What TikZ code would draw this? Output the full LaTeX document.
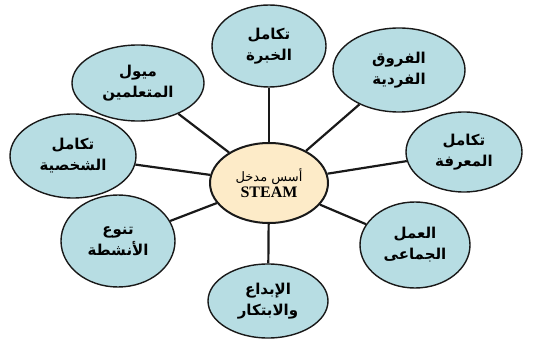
\documentclass[tikz,border=0pt]{standalone}
\usepackage{fontspec}
\newfontfamily\arabicfont[Script=Arabic]{DejaVu Sans}
\newfontfamily\latinfont{Liberation Serif}
\TeXXeTstate=1
\usetikzlibrary{shapes.geometric}
\definecolor{petal}{RGB}{183,221,227}
\definecolor{hub}{RGB}{253,235,200}
\definecolor{rim}{RGB}{25,25,25}
\begin{document}
\begin{tikzpicture}[x=1pt,y=-1pt,
  petalnode/.style={ellipse, draw=rim, line width=1.4pt, fill=petal, inner sep=0pt,
    align=center, font=\arabicfont\bfseries\fontsize{15}{21}\selectfont},
  hubnode/.style={ellipse, draw=rim, line width=2pt, fill=hub, inner sep=0pt,
    align=center, minimum width=118pt, minimum height=80pt},
  spoke/.style={rim, line width=2.2pt}]
\useasboundingbox (0,0) rectangle (543,339);

\node[hubnode] (hub) at (269,183)
  {{\arabicfont\fontsize{13}{16}\selectfont\beginR أسس مدخل\endR}\\[2pt]
   {\latinfont\bfseries\fontsize{16}{18}\selectfont STEAM}};

\node[petalnode, minimum width=114pt, minimum height=82pt] (khibra) at (269,46)
  {\beginR تكامل\endR\\\beginR الخبرة\endR};
\node[petalnode, minimum width=132pt, minimum height=84pt] (furuq) at (399,70)
  {\beginR الفروق\endR\\\beginR الفردية\endR};
\node[petalnode, minimum width=116pt, minimum height=80pt] (marifa) at (464,152)
  {\beginR تكامل\endR\\\beginR المعرفة\endR};
\node[petalnode, minimum width=110pt, minimum height=86pt] (amal) at (415,245)
  {\beginR العمل\endR\\\beginR الجماعى\endR};
\node[petalnode, minimum width=120pt, minimum height=74pt] (ibda) at (268,301)
  {\beginR الإبداع\endR\\\beginR والابتكار\endR};
\node[petalnode, minimum width=114pt, minimum height=92pt] (anshita) at (118,241)
  {\beginR تنوع\endR\\\beginR الأنشطة\endR};
\node[petalnode, minimum width=126pt, minimum height=84pt] (shakhsiya) at (73,156)
  {\beginR تكامل\endR\\\beginR الشخصية\endR};
\node[petalnode, minimum width=132pt, minimum height=76pt] (muyul) at (138,83)
  {\beginR ميول\endR\\\beginR المتعلمين\endR};

\foreach \p in {khibra,furuq,marifa,amal,ibda,anshita,shakhsiya,muyul}
  \draw[spoke] (hub) -- (\p);
\end{tikzpicture}
\end{document}
